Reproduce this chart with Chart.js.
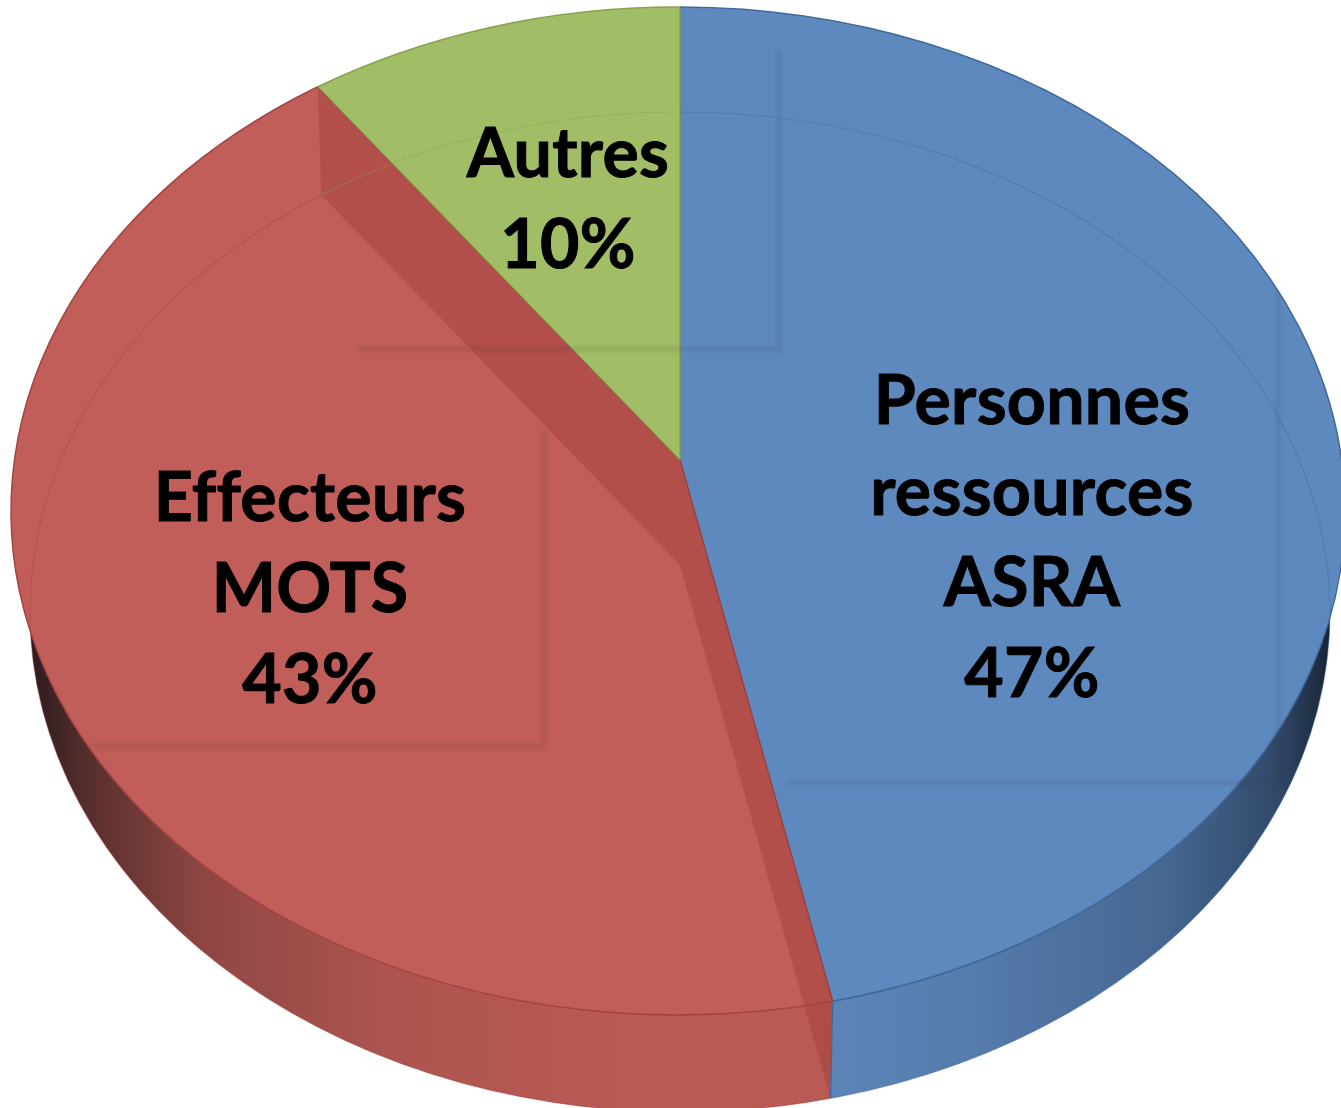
<!DOCTYPE html>
<html>
<head>
<meta charset="utf-8">
<title>Répartition</title>
<script src="https://cdn.jsdelivr.net/npm/chart.js@4"></script>
<style>
  html, body { margin: 0; padding: 0; background: #fff; overflow: hidden; }
  canvas { display: block; }
</style>
</head>
<body>
<canvas id="myChart" width="1341" height="1108"></canvas>
<script>
const categories = ["Personnes ressources ASRA", "Effecteurs MOTS", "Autres"];
const values = [47, 43, 10];
const labelLines = [
  ["Personnes", "ressources", "ASRA", "47%"],
  ["Effecteurs", "MOTS", "43%"],
  ["Autres", "10%"],
];
const labelCenters = [1032, 310, 568];
const labelBaselines = [424, 521, 177];
const sliceColors = ["#5e89bf", "#c25e59", "#a1bd66"];
const sliceBorders = ["#3f6899", "#a34442", "#86a24e"];

// perspective of the tilted pie
const topFace = { x: 678, y: 511, rx: 667, ry: 504 };
const bottomFace = { x: 680, y: 612, rx: 650, ry: 500 };
const apex = { x: 680, y: 460 };
const apexLow = { x: 680, y: 565 };
const tilt = [2, 0.272, 0, 1.3];

// soft shadows left by the text boxes: [x1, y1, x2, y2, x3, y3]
const boxShadows = [
  [358, 349, 779, 349, 779, 50],
  [90, 746, 544, 746, 544, 430],
  [790, 783, 1278, 783, 1278, 290],
];

function ellipsePath(ctx, e) {
  ctx.beginPath();
  ctx.ellipse(e.x, e.y, e.rx, e.ry, 0, 0, Math.PI * 2);
}

function applyTilt(ctx, arc, origin) {
  ctx.translate(origin.x, origin.y);
  ctx.transform(tilt[0], tilt[1], tilt[2], tilt[3], 0, 0);
  ctx.translate(-arc.x, -arc.y);
}

// point where a slice edge starting at origin meets the ellipse
function rimPoint(angle, origin, e) {
  const px = Math.cos(angle);
  const py = Math.sin(angle);
  const dx = tilt[0] * px + tilt[2] * py;
  const dy = tilt[1] * px + tilt[3] * py;
  const ox = (origin.x - e.x) / e.rx;
  const oy = (origin.y - e.y) / e.ry;
  const ax = dx / e.rx;
  const ay = dy / e.ry;
  const a = ax * ax + ay * ay;
  const b = 2 * (ox * ax + oy * ay);
  const c = ox * ox + oy * oy - 1;
  const t = (-b + Math.sqrt(b * b - 4 * a * c)) / (2 * a);
  return { x: origin.x + dx * t, y: origin.y + dy * t };
}

function rimAngle(angle, origin, e) {
  const p = rimPoint(angle, origin, e);
  return Math.atan2((p.y - e.y) / e.ry, (p.x - e.x) / e.rx);
}

function strokeRim(ctx, arcs, origin, e) {
  arcs.forEach((arc, i) => {
    ctx.strokeStyle = sliceBorders[i];
    ctx.beginPath();
    ctx.ellipse(e.x, e.y, e.rx, e.ry, 0, rimAngle(arc.startAngle, origin, e), rimAngle(arc.endAngle, origin, e));
    ctx.stroke();
  });
}

// one slice of the wall, cut along the vertical edge between red and blue
function drawWallSide(ctx, arc, shift, edgeTop, edgeLow, sideX) {
  ctx.save();
  ctx.beginPath();
  ctx.moveTo(edgeTop.x, edgeTop.y - 400);
  ctx.lineTo(edgeTop.x, edgeTop.y);
  ctx.lineTo(edgeLow.x, edgeLow.y);
  ctx.lineTo(edgeLow.x, 1108);
  ctx.lineTo(sideX, 1108);
  ctx.lineTo(sideX, edgeTop.y - 400);
  ctx.closePath();
  ctx.clip();
  applyTilt(ctx, arc, { x: apexLow.x + shift, y: apexLow.y });
  arc.draw(ctx);
  ctx.restore();
}

const pie3d = {
  id: "pie3d",
  beforeDatasetsDraw(chart) {
    const { ctx } = chart;
    const arcs = chart.getDatasetMeta(0).data;
    const edgeTop = rimPoint(arcs[1].startAngle, apex, topFace);
    const edgeLow = rimPoint(arcs[1].startAngle, apexLow, bottomFace);

    // side wall
    ctx.save();
    ellipsePath(ctx, bottomFace);
    ctx.clip();
    drawWallSide(ctx, arcs[1], 60, edgeTop, edgeLow, 0);
    drawWallSide(ctx, arcs[0], -60, edgeTop, edgeLow, 1341);

    ctx.fillStyle = "rgba(30,20,20,0.05)";
    ctx.fillRect(0, 500, 1341, 608);

    const left = ctx.createLinearGradient(25, 0, 640, 0);
    left.addColorStop(0, "rgba(15,15,20,0.85)");
    left.addColorStop(0.12, "rgba(25,20,20,0.58)");
    left.addColorStop(0.3, "rgba(30,20,20,0.27)");
    left.addColorStop(0.6, "rgba(30,20,20,0.08)");
    left.addColorStop(1, "rgba(30,20,20,0)");
    ctx.fillStyle = left;
    ctx.fillRect(0, 500, 640, 608);

    const right = ctx.createLinearGradient(1335, 0, 850, 0);
    right.addColorStop(0, "rgba(10,15,25,0.85)");
    right.addColorStop(0.12, "rgba(15,25,40,0.55)");
    right.addColorStop(0.35, "rgba(15,30,50,0.28)");
    right.addColorStop(0.75, "rgba(15,30,50,0.07)");
    right.addColorStop(1, "rgba(15,30,50,0)");
    ctx.fillStyle = right;
    ctx.fillRect(850, 500, 491, 608);
    ctx.restore();
  },
  beforeDatasetDraw(chart) {
    const { ctx } = chart;
    ctx.save();
    ellipsePath(ctx, topFace);
    ctx.clip();
    applyTilt(ctx, chart.getDatasetMeta(0).data[0], apex);
  },
  afterDatasetDraw(chart) {
    chart.ctx.restore();
  },
  afterDatasetsDraw(chart) {
    const { ctx } = chart;
    const arcs = chart.getDatasetMeta(0).data;

    // cut faces of the red slice, seen through the top
    ctx.fillStyle = "rgba(140,40,30,0.26)";
    [arcs[1].startAngle, arcs[1].endAngle].forEach((angle) => {
      const high = rimPoint(angle, apex, topFace);
      const low = rimPoint(angle, apexLow, bottomFace);
      ctx.beginPath();
      ctx.moveTo(apex.x, apex.y);
      ctx.lineTo(high.x, high.y);
      ctx.lineTo(low.x, low.y);
      ctx.lineTo(apexLow.x, apexLow.y);
      ctx.closePath();
      ctx.fill();
    });

    // vertical edge between red and blue on the wall
    const edgeTop = rimPoint(arcs[1].startAngle, apex, topFace);
    const edgeLow = rimPoint(arcs[1].startAngle, apexLow, bottomFace);
    ctx.strokeStyle = sliceBorders[0];
    ctx.lineWidth = 1.2;
    ctx.beginPath();
    ctx.moveTo(edgeTop.x, edgeTop.y);
    ctx.lineTo(edgeLow.x, edgeLow.y);
    ctx.stroke();

    // rims
    ctx.lineWidth = 1.5;
    strokeRim(ctx, arcs, apex, topFace);
    ctx.save();
    ctx.globalAlpha = 0.4;
    ctx.lineWidth = 1.2;
    strokeRim(ctx, arcs, apexLow, bottomFace);
    ctx.restore();

    // text box shadows
    ctx.save();
    ctx.filter = "blur(1.5px)";
    ctx.lineWidth = 6;
    ctx.strokeStyle = "rgba(50,50,50,0.1)";
    boxShadows.forEach((s) => {
      ctx.beginPath();
      ctx.moveTo(s[0], s[1]);
      ctx.lineTo(s[2], s[3]);
      ctx.lineTo(s[4], s[5]);
      ctx.stroke();
    });
    ctx.restore();

    //labels
    ctx.fillStyle = "#000";
    ctx.strokeStyle = "#000";
    ctx.lineWidth = 1;
    ctx.font = "bold 68px Lato";
    ctx.letterSpacing = "0.3px";
    ctx.textAlign = "center";
    ctx.textBaseline = "alphabetic";
    labelLines.forEach((lines, i) => {
      lines.forEach((line, n) => {
        ctx.fillText(line, labelCenters[i], labelBaselines[i] + n * 91);
        ctx.strokeText(line, labelCenters[i], labelBaselines[i] + n * 91);
      });
    });
  },
};

new Chart(document.getElementById("myChart"), {
  type: "pie",
  data: {
    labels: categories,
    datasets: [{
      data: values,
      backgroundColor: sliceColors,
      borderColor: sliceBorders,
      borderWidth: 0.7,
      clip: false,
    }],
  },
  options: {
    responsive: false,
    animation: false,
    plugins: {
      legend: { display: false },
      tooltip: { enabled: false },
    },
  },
  plugins: [pie3d],
});
</script>
</body>
</html>
